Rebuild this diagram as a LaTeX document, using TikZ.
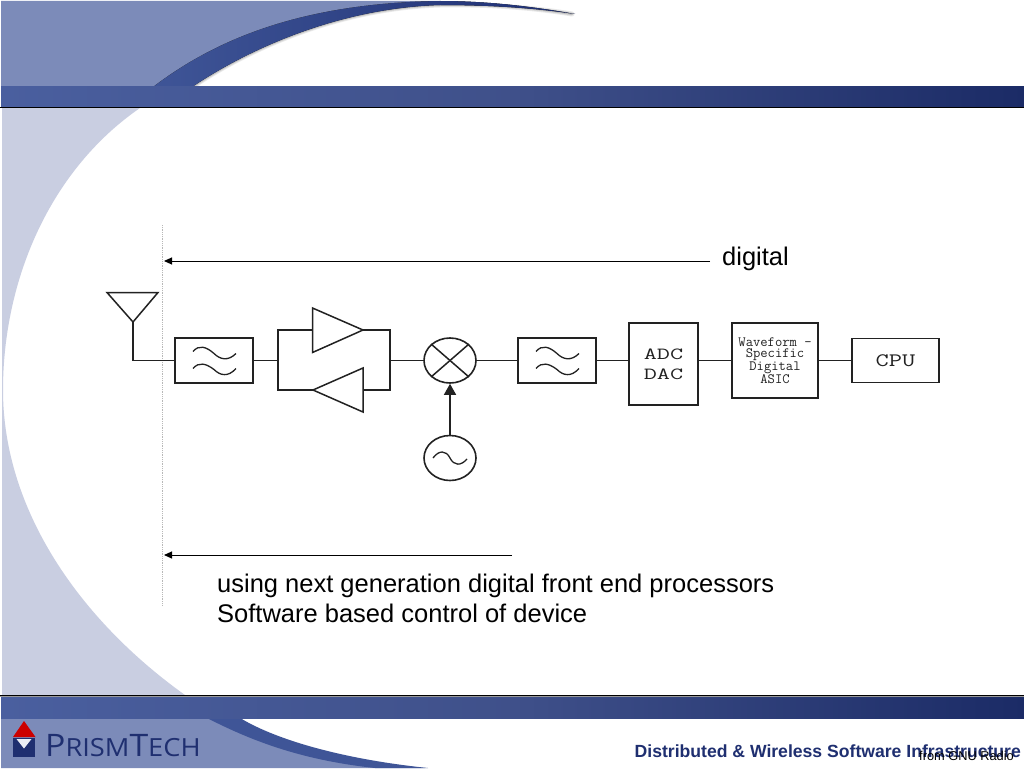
\documentclass[tikz,border=0pt]{standalone}
\usepackage{fontspec}
\setmainfont{Liberation Sans}
\newfontfamily\logofont{Open Sans}
\usetikzlibrary{shapes.geometric,arrows.meta,calc}
\definecolor{lilac}{HTML}{C9CEE1}
\definecolor{headlight}{HTML}{7C8BB9}
\definecolor{bandL}{HTML}{4A5F9F}
\definecolor{bandM}{HTML}{3F508A}
\definecolor{bandR}{HTML}{1B2B66}
\definecolor{swooshL}{HTML}{3F5597}
\definecolor{swooshR}{HTML}{1E2F73}
\definecolor{ink}{HTML}{222222}
\definecolor{navy}{HTML}{1F2F70}
\tikzset{
  x=1pt,y=-1pt,
  wire/.style={draw=ink,line width=1.5pt},
  blockbox/.style={draw=ink,line width=1.6pt,fill=white,inner sep=0pt,align=center},
  roundel/.style={ellipse,draw=ink,line width=1.6pt,fill=white,inner sep=0pt,minimum width=52pt,minimum height=45pt},
  squiggle/.style={draw=ink,line width=1.3pt},
  chiptext/.style={font=\ttfamily,text=ink},
  slidetext/.style={font=\fontsize{25.5}{30}\selectfont,text=black,inner sep=0pt,anchor=base west},
  note/.style={draw=black,line width=1pt,-{Triangle[length=8pt,width=7pt]}},
  band/.style={left color=bandL,right color=bandR,middle color=bandM}
}
\begin{document}
\begin{tikzpicture}
\useasboundingbox (0,0) rectangle (1024,768);
\fill[white] (0,0) rectangle (1024,768);
% left backdrop
\fill[lilac] (2,108) -- (140,108) .. controls (50,170) and (3,280) .. (3,390)
  .. controls (3,510) and (80,620) .. (185,695) -- (2,695) -- cycle;
% header
\fill[headlight] (1,1) -- (440,1) .. controls (300,3) and (215,40) .. (153,87) -- (1,87) -- cycle;
\foreach \o/\c in {5/8,3.5/14,2/25}{
  \draw[black!\c,line width=\o pt,line cap=round] (193,86.5) .. controls (250,48) and (340,8) .. (440,5) .. controls (490,4) and (535,8) .. (572,14);
}
\fill[left color=swooshL,right color=swooshR] (153,87) .. controls (215,40) and (300,3) .. (440,1)
  .. controls (490,1) and (535,7) .. (575,14)
  .. controls (535,8) and (490,5) .. (440,5)
  .. controls (340,8) and (250,48) .. (192,87) -- cycle;
\fill[band] (1,86) rectangle (1024,107);
\draw[black,line width=0.9pt] (0,107.5) -- (1024,107.5);
% footer
\draw[black,line width=0.9pt] (0,695) -- (1024,695);
\draw[black!40,line width=0.6pt] (0,696) -- (1024,696);
\fill[headlight] (1,718) -- (240,718) .. controls (280,745) and (350,762) .. (425,768) -- (1,768) -- cycle;
\fill[swooshL] (207,718) -- (240,718) .. controls (280,742) and (350,760) .. (428,768) -- (375,768) .. controls (300,760) and (250,740) .. (207,718) -- cycle;
\fill[band] (1,697) rectangle (1024,718);
% logo
\fill[red!80!black] (24,721) -- (35.5,737) -- (13,737) -- cycle;
\fill[navy] (13,738) -- (35,738) -- (35,756.5) -- (13,756.5) -- cycle;
\fill[white!85!headlight] (16.5,739) -- (31.5,739) -- (24,748.5) -- cycle;
\node[inner sep=0pt,anchor=base west,text=navy] (logo) at (45,756)
  {\logofont\scalebox{1.09}[1]{\fontsize{31}{31}\selectfont P\fontsize{25}{25}\selectfont RISM\fontsize{31}{31}\selectfont T\fontsize{25}{25}\selectfont ECH}};
\node[inner sep=0pt,anchor=base east,text=navy,font=\bfseries\fontsize{17.6}{20}\selectfont] (tagline) at (1021,757)
  {Distributed \& Wireless Software Infrastructure};
\node[inner sep=0pt,anchor=base east,text=black,font=\fontsize{12.8}{14}\selectfont] (credit) at (1014,760) {from GNU Radio};
% boundary
\draw[black!28,line width=0.8pt,densely dotted] (162,225) -- (162,605);
% blocks
\node[blockbox,minimum width=78pt,minimum height=45pt] (f1) at (214,360.5) {};
\node[blockbox,minimum width=78pt,minimum height=45pt] (f2) at (557,360.5) {};
\node[blockbox,minimum width=69pt,minimum height=82pt,chiptext,font=\ttfamily\fontsize{17}{20}\selectfont] (adc) at (663.5,364)
  {\scalebox{1.5}[1]{ADC}\\\scalebox{1.5}[1]{DAC}};
\node[blockbox,minimum width=86pt,minimum height=75pt,chiptext,font=\ttfamily\fontsize{14.2}{11.5}\selectfont] (asic) at (775,360.5)
  {Waveform -\\Specific\\Digital\\ASIC};
\node[blockbox,minimum width=87pt,minimum height=44pt,chiptext] (cpu) at (895.5,360.5)
  {\raisebox{-1.5pt}{\scalebox{1.35}[1]{\fontsize{19}{19}\selectfont CPU}}};
\node[roundel] (mix) at (450,360.5) {};
\node[roundel] (osc) at (450,458) {};
% antenna
\draw[wire,line join=miter] (107,292.5) -- (158,292.5) -- (133,322) -- cycle;
\coordinate (antbase) at (133,322);
\coordinate (antfoot) at (133,360.5);
\draw[wire] (antbase) -- (antfoot) -- (f1.west);
% filter waves
\foreach \n in {f1,f2}{
  \begin{scope}[shift={(\n)}]
    \draw[squiggle] (-21,-9) .. controls (-15,-16) and (-8,-14) .. (0,-7) .. controls (6,-1) and (14,1) .. (22,-7);
    \draw[squiggle] (-21,8) .. controls (-15,1) and (-8,3) .. (0,9) .. controls (6,15) and (14,17) .. (22,8);
  \end{scope}
}
% amplifier loop
\coordinate (loopW) at (278,360.5);
\coordinate (loopE) at (390,360.5);
\coordinate (loopNW) at (278,330);
\coordinate (loopSW) at (278,390);
\coordinate (loopNE) at (390,330);
\coordinate (loopSE) at (390,390);
\draw[wire] (f1.east) -- (loopW);
\draw[wire] (loopE) -- (mix.west);
\draw[wire] (312.5,330) -- (loopNW) -- (loopSW) -- (313,390);
\draw[wire] (363,330) -- (loopNE) -- (loopSE) -- (363,390);
\draw[wire,fill=white] (312.5,308) -- (363,330) -- (312.5,352.5) -- cycle;
\draw[wire,fill=white] (363,368) -- (363,412) -- (313,390) -- cycle;
% mixer cross
\draw[wire] (mix.north west) -- (mix.south east);
\draw[wire] (mix.north east) -- (mix.south west);
% oscillator wave
\begin{scope}[shift={(osc)}]
  \draw[squiggle] (-17,0) .. controls (-11,-8) and (-4,-8) .. (0,0) .. controls (4,8) and (11,8) .. (17,1);
\end{scope}
% chain
\draw[wire,-{Triangle[length=11pt,width=12pt]}] (osc.north) -- (mix.south);
\draw[wire] (mix.east) -- (f2.west);
\draw[wire] (f2.east) -- (adc.west |- f2.east);
\draw[wire] (adc.east |- asic.west) -- (asic.west);
\draw[wire] (asic.east) -- (cpu.west);
% annotations
\coordinate (boundTop) at (164,261);
\coordinate (boundBot) at (164,555);
\coordinate (endTop) at (710,261);
\coordinate (endBot) at (512,555);
\draw[note] (endTop) -- (boundTop);
\draw[note] (endBot) -- (boundBot);
\node[slidetext] (dig) at (722,265.5) {digital};
\node[slidetext] (t1) at (217,592) {using next generation digital front end processors};
\node[slidetext] (t2) at (217,622) {Software based control of device};
\end{tikzpicture}
\end{document}
